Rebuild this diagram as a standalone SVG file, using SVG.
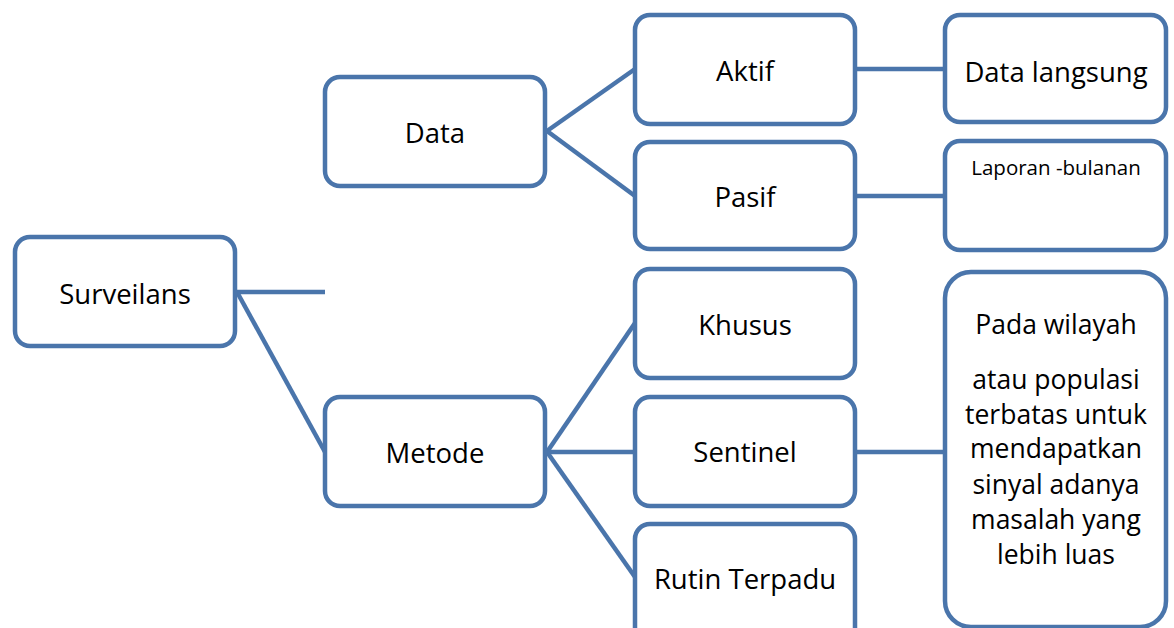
<svg xmlns="http://www.w3.org/2000/svg" width="1174" height="628" viewBox="0 0 1174 628">
  <style>
    .box { fill: #ffffff; stroke: #4A75AB; stroke-width: 4.5; }
    .conn line { stroke: #4A75AB; stroke-width: 4.5; stroke-linecap: butt; }
    text { font-family: "Open Sans", "Liberation Sans", sans-serif; fill: #000000; text-anchor: middle; }
    .lbl { font-size: 27.5px; }
    .small { font-size: 20.5px; }
    .big { font-size: 26.5px; }
  </style>
  <rect width="1174" height="628" fill="#ffffff"/>
  <g id="connectors" class="conn">
    <line x1="237" y1="292" x2="325" y2="292"/>
    <line x1="237" y1="292" x2="325" y2="452"/>
    <line x1="547" y1="131" x2="635" y2="69"/>
    <line x1="547" y1="131" x2="635" y2="196"/>
    <line x1="855" y1="69" x2="945" y2="69"/>
    <line x1="855" y1="196" x2="945" y2="196"/>
    <line x1="547" y1="452" x2="635" y2="323"/>
    <line x1="547" y1="452" x2="635" y2="452"/>
    <line x1="547" y1="452" x2="635" y2="577"/>
    <line x1="855" y1="452" x2="945" y2="452"/>
  </g>
  <g id="surveilans">
    <rect class="box" x="15" y="237" width="220" height="109" rx="15"/>
    <text class="lbl" x="125" y="304">Surveilans</text>
  </g>
  <g id="data">
    <rect class="box" x="325" y="77" width="220" height="109" rx="15"/>
    <text class="lbl" x="435" y="143">Data</text>
  </g>
  <g id="metode">
    <rect class="box" x="325" y="397" width="220" height="109" rx="15"/>
    <text class="lbl" x="435" y="463">Metode</text>
  </g>
  <g id="aktif">
    <rect class="box" x="635" y="15" width="220" height="109" rx="15"/>
    <text class="lbl" x="745" y="81">Aktif</text>
  </g>
  <g id="pasif">
    <rect class="box" x="635" y="142" width="220" height="107" rx="15"/>
    <text class="lbl" x="745" y="207">Pasif</text>
  </g>
  <g id="khusus">
    <rect class="box" x="635" y="269" width="220" height="109" rx="15"/>
    <text class="lbl" x="745" y="335">Khusus</text>
  </g>
  <g id="sentinel">
    <rect class="box" x="635" y="397" width="220" height="109" rx="15"/>
    <text class="lbl" x="745" y="462">Sentinel</text>
  </g>
  <g id="rutin-terpadu">
    <rect class="box" x="635" y="524" width="220" height="120" rx="15"/>
    <text class="lbl" x="745" y="589">Rutin Terpadu</text>
  </g>
  <g id="data-langsung">
    <rect class="box" x="945" y="15" width="221" height="107" rx="15"/>
    <text class="lbl" x="1056" y="82">Data langsung</text>
  </g>
  <g id="laporan-bulanan">
    <rect class="box" x="945" y="141" width="221" height="109" rx="15"/>
    <text class="small" x="1056" y="175">Laporan -bulanan</text>
  </g>
  <g id="pada-wilayah">
    <rect class="box" x="945" y="272" width="221" height="355" rx="26"/>
    <text class="big" x="1056" y="334">Pada wilayah</text>
    <text class="big" x="1056" y="389">atau populasi</text>
    <text class="big" x="1056" y="424">terbatas untuk</text>
    <text class="big" x="1056" y="458">mendapatkan</text>
    <text class="big" x="1056" y="494">sinyal adanya</text>
    <text class="big" x="1056" y="529">masalah yang</text>
    <text class="big" x="1056" y="564">lebih luas</text>
  </g>
</svg>
